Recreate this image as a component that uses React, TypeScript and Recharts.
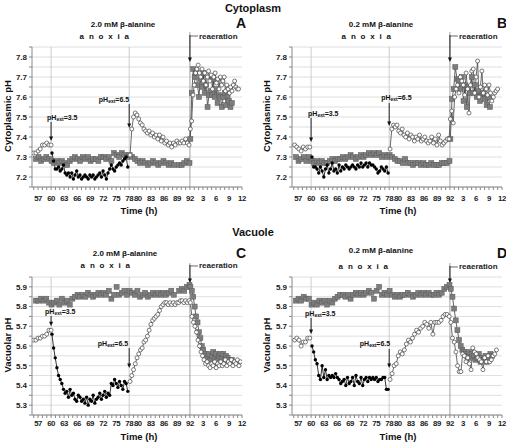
import React from 'react';
import { ComposedChart, Line, XAxis, YAxis, CartesianGrid, ReferenceLine } from 'recharts';

const FONT = '"Liberation Sans", Arial, sans-serif';

// ---------- axes ----------
const X_TICKS = [56,57,58,59,60,61,62,63,64,65,66,67,68,69,70,71,72,73,74,75,76,77,78,79,80,81,82,83,84,85,86,87,88,89,90,91,92,93,94,95,96,97,98,99,100,101,102,103,104];
const X_LABELS = [57, 60, 63, 66, 69, 72, 75, 78, 80, 83, 86, 89, 92, 95, 98, 101, 104];
const CYTO_TICKS = [7.15, 7.2, 7.25, 7.3, 7.35, 7.4, 7.45, 7.5, 7.55, 7.6, 7.65, 7.7, 7.75, 7.8, 7.85];
const VAC_TICKS = [5.25, 5.3, 5.35, 5.4, 5.45, 5.5, 5.55, 5.6, 5.65, 5.7, 5.75, 5.8, 5.85, 5.9, 5.95];

// ---------- Panel A : cytoplasm, 2.0 mM ----------
const aOpenPre = [7.32, 7.32, 7.33, 7.34, 7.36, 7.36, 7.37, 7.36, 7.36];
const aBlack = [7.32, 7.28, 7.24, 7.24, 7.25, 7.23, 7.24, 7.26, 7.22, 7.21, 7.22, 7.20, 7.22, 7.19, 7.21, 7.23, 7.20, 7.21, 7.19, 7.20, 7.21, 7.20, 7.19, 7.21, 7.20, 7.21, 7.19, 7.20, 7.21, 7.22, 7.20, 7.23, 7.21, 7.19, 7.22, 7.24, 7.26, 7.24, 7.23, 7.25, 7.26, 7.27, 7.26, 7.28, 7.29, 7.30, 7.25];
const aCtrlPre = [7.29, 7.30, 7.28, 7.29, 7.30, 7.29, 7.28, 7.27, 7.28, 7.27, 7.28, 7.27, 7.26, 7.28, 7.29, 7.30, 7.29, 7.28, 7.30, 7.29, 7.30, 7.28, 7.29, 7.29, 7.28, 7.30, 7.30, 7.29, 7.30, 7.28, 7.32, 7.31, 7.30, 7.32, 7.31, 7.30, 7.31, 7.30, 7.29, 7.28, 7.27, 7.28, 7.27, 7.26, 7.27, 7.28, 7.27, 7.26, 7.27, 7.28, 7.27, 7.26, 7.27, 7.26, null, 7.26, 7.26, 7.27, 7.28, 7.27];
const aOpenMid = [7.31, 7.44, 7.50, 7.52, 7.51, 7.49, 7.47, 7.46, 7.44, 7.43, 7.42, 7.43, 7.41, 7.42, 7.40, 7.41, 7.39, 7.41, 7.38, 7.40, 7.37, 7.38, 7.36, 7.37, 7.35, 7.37, 7.36, 7.38, 7.37, 7.37, 7.38, 7.37, 7.39, 7.37, 7.36];
const aOpenPost = [7.44, 7.48, 7.61, 7.66, 7.72, 7.74, 7.76, 7.72, 7.70, 7.74, 7.68, 7.72, 7.66, 7.70, 7.73, 7.68, 7.71, 7.64, 7.70, 7.72, 7.67, 7.69, 7.64, 7.70, 7.66, 7.68, 7.70, 7.63, 7.66, 7.64, 7.62, 7.65, 7.63, 7.66, 7.68, 7.65, 7.64, 7.64];
const aCtrlPost = [7.39, 7.62, 7.74, 7.70, 7.72, 7.66, 7.60, 7.69, 7.65, 7.72, 7.62, 7.66, 7.55, 7.61, 7.63, 7.61, 7.69, 7.60, 7.64, 7.57, 7.61, 7.60, 7.55, 7.60, 7.62, 7.56, 7.60, 7.58, 7.55, 7.57];

// ---------- Panel B : cytoplasm, 0.2 mM ----------
const bOpenPre = [7.36, 7.35, 7.34, 7.33, 7.35, 7.34, 7.35, 7.35];
const bBlack = [7.30, 7.25, 7.25, 7.24, 7.22, 7.25, 7.23, 7.20, 7.24, 7.26, 7.22, 7.24, 7.27, 7.23, 7.24, 7.22, 7.26, 7.23, 7.25, 7.24, 7.26, 7.25, 7.24, 7.25, 7.26, 7.25, 7.24, 7.26, 7.25, 7.27, 7.25, 7.26, 7.27, 7.25, 7.27, 7.26, 7.26, 7.25, 7.24, 7.22, 7.23, 7.25, 7.24, 7.23, 7.25, 7.22];
const bCtrlPre = [7.30, 7.28, 7.29, 7.30, 7.28, 7.30, 7.28, 7.27, 7.28, 7.27, 7.28, 7.27, 7.27, 7.28, 7.29, 7.28, 7.29, 7.29, 7.30, 7.29, 7.30, 7.31, 7.30, 7.29, 7.30, 7.31, 7.30, 7.31, 7.32, 7.31, 7.32, 7.31, 7.32, 7.30, 7.31, 7.30, 7.31, 7.30, 7.29, 7.28, 7.28, 7.27, 7.29, 7.27, 7.27, 7.26, 7.27, 7.27, 7.26, 7.27, 7.26, 7.26, 7.27, 7.26, 7.26, 7.26, 7.27, 7.27, 7.27, 7.28];
const bOpenMid = [7.34, 7.44, 7.46, 7.45, 7.46, 7.43, 7.42, 7.44, 7.41, 7.40, 7.42, 7.39, 7.41, 7.40, 7.38, 7.40, 7.39, 7.41, 7.38, 7.39, 7.40, 7.38, 7.37, 7.38, 7.40, 7.37, 7.39, 7.36, 7.41, 7.38, 7.36, 7.37, 7.38, 7.39, 7.39];
const bOpenPost = [7.49, 7.53, 7.47, 7.60, 7.64, 7.66, 7.62, 7.70, 7.68, 7.66, 7.61, 7.72, 7.64, 7.52, 7.66, 7.73, 7.74, 7.62, 7.70, 7.78, 7.60, 7.65, 7.73, 7.62, 7.66, 7.64, 7.61, 7.66, 7.62, 7.58, 7.60, 7.62, 7.63, 7.64];
const bCtrlPost = [7.39, 7.59, 7.64, 7.75, 7.69, 7.68, 7.64, 7.70, 7.58, 7.66, 7.55, 7.65, 7.62, 7.70, 7.62, 7.66, 7.60, 7.63, 7.58, 7.61, 7.62, 7.59, 7.56, 7.60, 7.55];

// ---------- Panel C : vacuole, 2.0 mM ----------
const cOpenPre = [5.63, 5.63, 5.64, 5.64, 5.65, 5.65, 5.66, 5.68, 5.68];
const cBlack = [5.66, 5.59, 5.54, 5.49, 5.45, 5.43, 5.41, 5.38, 5.36, 5.37, 5.34, 5.38, 5.35, 5.36, 5.33, 5.32, 5.35, 5.34, 5.32, 5.33, 5.31, 5.34, 5.30, 5.33, 5.32, 5.35, 5.31, 5.33, 5.34, 5.36, 5.33, 5.35, 5.37, 5.34, 5.36, 5.35, 5.41, 5.40, 5.43, 5.41, 5.39, 5.42, 5.40, 5.38, 5.42, 5.41, 5.37];
const cCtrlPre = [5.83, 5.83, 5.84, 5.83, 5.84, 5.82, 5.81, 5.82, 5.83, 5.81, 5.84, 5.82, 5.83, 5.81, 5.84, 5.85, 5.86, 5.85, 5.86, 5.85, 5.87, 5.86, 5.85, 5.86, 5.87, 5.86, 5.87, 5.86, 5.88, 5.84, 5.86, 5.90, 5.86, 5.87, 5.88, 5.86, 5.88, 5.87, 5.86, 5.88, 5.85, 5.86, 5.87, 5.85, 5.86, 5.87, 5.86, 5.87, 5.86, 5.87, 5.86, 5.87, 5.88, 5.86, null, 5.88, 5.89, 5.88, 5.90, 5.91];
const cOpenMid = [5.42, 5.45, 5.48, 5.51, 5.54, 5.56, 5.58, 5.59, 5.62, 5.63, 5.65, 5.68, 5.71, 5.73, 5.74, 5.75, 5.76, 5.78, 5.80, 5.81, 5.82, 5.82, 5.81, 5.82, 5.81, 5.82, 5.81, 5.82, 5.82, 5.83, 5.83, 5.82, 5.83, 5.82, 5.83];
const cOpenPost = [5.82, 5.75, 5.72, 5.70, 5.67, 5.63, 5.60, 5.57, 5.55, 5.53, 5.51, 5.52, 5.50, 5.49, 5.51, 5.50, 5.52, 5.49, 5.51, 5.50, 5.52, 5.50, 5.51, 5.53, 5.50, 5.52, 5.51, 5.53, 5.50, 5.52, 5.51, 5.53, 5.50, 5.52];
const cCtrlPost = [5.90, 5.88, 5.85, 5.80, 5.75, 5.72, 5.67, 5.64, 5.60, 5.58, 5.56, 5.55, 5.54, 5.56, 5.53, 5.55, 5.57, 5.54, 5.56, 5.53, 5.55, 5.56, 5.54, 5.56, 5.53, 5.55, 5.54, 5.53, 5.52, 5.53];

// ---------- Panel D : vacuole, 0.2 mM ----------
const dOpenPre = [5.63, 5.64, 5.63, 5.60, 5.62, 5.62, 5.64, 5.64];
const dBlack = [5.60, 5.57, 5.53, 5.51, 5.45, 5.43, 5.50, 5.44, 5.48, 5.43, 5.45, 5.44, 5.45, 5.44, 5.46, 5.44, 5.43, 5.41, 5.42, 5.43, 5.40, 5.44, 5.41, 5.42, 5.44, 5.40, 5.45, 5.42, 5.41, 5.44, 5.40, 5.43, 5.44, 5.42, 5.44, 5.43, 5.44, 5.43, 5.44, 5.42, 5.43, 5.43, 5.44, 5.44, 5.38, 5.38];
const dCtrlPre = [5.83, 5.84, 5.83, 5.85, 5.84, 5.84, 5.81, 5.82, 5.81, 5.83, 5.82, 5.83, 5.81, 5.83, 5.82, 5.84, 5.85, 5.86, 5.86, 5.85, 5.86, 5.84, 5.86, 5.87, 5.86, 5.87, 5.86, 5.87, 5.88, 5.87, 5.84, 5.88, 5.90, 5.86, 5.87, 5.86, 5.88, 5.86, 5.85, 5.86, 5.85, 5.86, 5.86, 5.87, 5.86, 5.85, 5.86, 5.87, 5.86, 5.87, 5.86, 5.87, 5.86, 5.86, 5.87, 5.86, 5.87, 5.89, 5.90, 5.91];
const dOpenMid = [5.43, 5.46, 5.50, 5.51, 5.55, 5.57, 5.56, 5.58, 5.61, 5.63, 5.62, 5.64, 5.66, 5.68, 5.67, 5.69, 5.70, 5.72, 5.71, 5.69, 5.72, 5.66, 5.72, 5.72, 5.72, 5.73, 5.75, 5.76, 5.76, 5.75];
const dOpenPost = [5.72, 5.64, 5.62, 5.57, 5.50, 5.47, 5.47, 5.56, 5.55, 5.52, 5.54, 5.51, 5.48, 5.59, 5.57, 5.56, 5.54, 5.53, 5.52, 5.48, 5.54, 5.52, 5.55, 5.52, 5.53, 5.55, 5.56, 5.58];
const dCtrlPost = [5.89, 5.85, 5.79, 5.73, 5.68, 5.63, 5.60, 5.58, 5.57, 5.56, 5.55, 5.57, 5.54, 5.56, 5.55, 5.53, 5.54, 5.56, 5.52, 5.54, 5.53, 5.55, 5.52, 5.54, 5.56, 5.55];

type Seg = { start: number; step: number; vals: (number | null)[] };
type Pt = { t: number; v: number };
const pts = (s: Seg): Pt[] =>
  s.vals
    .map((v, i) => ({ t: Math.round((s.start + i * s.step) * 100) / 100, v }))
    .filter((d) => d.v !== null) as Pt[];

const fmtX = (t: number) => (X_LABELS.includes(t) ? String(t > 92 ? t - 92 : t) : '');
const fmtY = (v: number) => (Math.round(v * 100) % 10 === 0 ? v.toFixed(1) : '');

const SquareDot = (p: any) => {
  const { cx, cy, index } = p;
  if (cx == null || cy == null) return <g key={`sq${index}`} />;
  return (
    <rect key={`sq${index}`} x={cx - 2.5} y={cy - 2.5} width={5} height={5}
      fill="#7d7d7d" stroke="#5a5a5a" strokeWidth={0.5} />
  );
};
const OpenDot = (p: any) => {
  const { cx, cy, index } = p;
  if (cx == null || cy == null) return <g key={`op${index}`} />;
  return <circle key={`op${index}`} cx={cx} cy={cy} r={2} fill="#fff" stroke="#444" strokeWidth={0.7} />;
};
const BlackDot = (p: any) => {
  const { cx, cy, index } = p;
  if (cx == null || cy == null) return <g key={`bk${index}`} />;
  return <circle key={`bk${index}`} cx={cx} cy={cy} r={1.7} fill="#000" />;
};

const XTick = (p: any) => {
  const { x, y, payload } = p;
  const s = fmtX(payload.value);
  if (!s) return <g />;
  return (
    <text x={x} y={y} dy="0.71em" textAnchor="middle" fontSize={7.8} fontWeight={700} fontFamily={FONT}
      letterSpacing={-0.45} fill="#222" style={{ fill: '#222' }}>
      {s}
    </text>
  );
};

const PHLabel = ({ x, y, val, anchor }: { x: number; y: number; val: string; anchor: string }) => (
  <text x={x} y={y} fontSize={7} fontWeight={700} fontFamily={FONT} fill="#111" stroke="none" style={{ fill: '#111' }}
    textAnchor={anchor as any} dominantBaseline="central">
    <tspan fill="#111">pH</tspan>
    <tspan fill="#111" fontSize={5} dy={2}>ext</tspan>
    <tspan fill="#111" dy={-2}>={val}</tspan>
  </text>
);

const arrowShape = (val: string | null, dx: number, dy: number, anchor: string) => (p: any) => {
  const { x1, y1, x2, y2 } = p;
  return (
    <g>
      <line x1={x1} y1={y1} x2={x2} y2={y2 - 3} stroke="#111" strokeWidth={0.9} />
      <polygon points={`${x2 - 2},${y2 - 4.5} ${x2 + 2},${y2 - 4.5} ${x2},${y2}`} fill="#111" stroke="none" />
      {val && <PHLabel x={x1 + dx} y={y1 + dy} val={val} anchor={anchor} />}
    </g>
  );
};

const reaerShape = (p: any) => {
  const { x1, y1, x2, y2 } = p;
  return (
    <g>
      <line x1={x1} y1={y1} x2={x2} y2={y2 - 3} stroke="#111" strokeWidth={0.9} />
      <polygon points={`${x2 - 2},${y2 - 4.5} ${x2 + 2},${y2 - 4.5} ${x2},${y2}`} fill="#111" stroke="none" />
      <line x1={x1} y1={y1 + 1} x2={x1 + 8} y2={y1 + 1} stroke="#444" strokeWidth={0.8} />
      <text x={x1 + 9} y={y1 + 1} fontSize={8} fontWeight={700} fontFamily={FONT} fill="#222" stroke="none"
        style={{ fill: '#222' }} dominantBaseline="central">
        reaeration
      </text>
    </g>
  );
};

type PanelCfg = {
  left: number; top: number;
  margin: { top: number; right: number; bottom: number; left: number };
  yWidth: number; xTickMargin: number;
  yDomain: [number, number]; yTicks: number[];
  openPre: Seg; black: Seg; ctrlPre: Seg; openMid: Seg; openPost: Seg; ctrlPost: Seg;
  a35: [number, number]; a35dx: number; a35dy: number; a35anchor: string;
  a65: [number, number]; a65dx: number; a65dy: number; a65anchor: string;
  reaer: [number, number]; lineTop: number;
};

const yTickStyle = { fontSize: 8, fontWeight: 700, fill: '#222', fontFamily: FONT };

function Panel({ c }: { c: PanelCfg }) {
  const openData = [...pts(c.openMid), ...pts(c.openPost)];
  return (
    <div style={{ position: 'absolute', left: c.left, top: c.top }}>
      <ComposedChart width={253} height={221} margin={c.margin}>
        <CartesianGrid vertical={false} stroke="#d6d6d6" strokeWidth={0.8} />
        <XAxis type="number" dataKey="t" domain={[55.6, 104]} ticks={X_TICKS} interval={0}
          tickFormatter={fmtX} allowDataOverflow height={20} tickSize={3} tickMargin={c.xTickMargin}
          stroke="#888" tick={XTick} />
        <YAxis type="number" domain={c.yDomain} ticks={c.yTicks} interval={0} tickFormatter={fmtY}
          width={c.yWidth} tickSize={3} tickMargin={2} stroke="#888" allowDataOverflow tick={yTickStyle} />
        <ReferenceLine x={60} stroke="#c6c6c6" strokeWidth={0.9} />
        <ReferenceLine x={78} stroke="#c6c6c6" strokeWidth={0.9} />
        <ReferenceLine segment={[{ x: 92, y: c.yDomain[0] }, { x: 92, y: c.lineTop }]} stroke="#9a9a9a"
          strokeWidth={0.9} ifOverflow="visible" />
        <Line data={pts(c.ctrlPre)} dataKey="v" stroke="none" dot={SquareDot} activeDot={false}
          isAnimationActive={false} legendType="none" />
        <Line data={pts(c.ctrlPost)} dataKey="v" stroke="#3a3a3a" strokeWidth={0.8} dot={SquareDot}
          activeDot={false} isAnimationActive={false} />
        <Line data={pts(c.openPre)} dataKey="v" stroke="#555" strokeWidth={0.8} dot={OpenDot}
          activeDot={false} isAnimationActive={false} />
        <Line data={pts(c.black)} dataKey="v" stroke="#000" strokeWidth={0.8} dot={BlackDot}
          activeDot={false} isAnimationActive={false} />
        <Line data={openData} dataKey="v" stroke="#444" strokeWidth={0.8} dot={OpenDot}
          activeDot={false} isAnimationActive={false} />
        <ReferenceLine segment={[{ x: 60, y: c.a35[0] }, { x: 60, y: c.a35[1] }]} ifOverflow="visible"
          shape={arrowShape('3.5', c.a35dx, c.a35dy, c.a35anchor)} />
        <ReferenceLine segment={[{ x: 78, y: c.a65[0] }, { x: 78, y: c.a65[1] }]} ifOverflow="visible"
          shape={arrowShape('6.5', c.a65dx, c.a65dy, c.a65anchor)} />
        <ReferenceLine segment={[{ x: 92, y: c.reaer[0] }, { x: 92, y: c.reaer[1] }]} ifOverflow="visible"
          shape={reaerShape} />
      </ComposedChart>
    </div>
  );
}

const PANELS: PanelCfg[] = [
  {
    left: 0, top: 0, margin: { top: 47, right: 11, bottom: 14, left: 0 }, yWidth: 32, xTickMargin: 5,
    yDomain: [7.15, 7.85], yTicks: CYTO_TICKS,
    openPre: { start: 56.0, step: 0.5, vals: aOpenPre },
    black: { start: 60.2, step: 0.38, vals: aBlack },
    ctrlPre: { start: 56.5, step: 0.6, vals: aCtrlPre },
    openMid: { start: 78.2, step: 0.4, vals: aOpenMid },
    openPost: { start: 92.1, step: 0.3, vals: aOpenPost },
    ctrlPost: { start: 92.1, step: 0.33, vals: aCtrlPost },
    a35: [7.475, 7.38], a35dx: -4, a35dy: -5, a35anchor: 'start',
    a65: [7.565, 7.445], a65dx: 0, a65dy: -5, a65anchor: 'end',
    reaer: [7.91, 7.775], lineTop: 7.925,
  },
  {
    left: 253, top: 0, margin: { top: 47, right: 4, bottom: 14, left: 0 }, yWidth: 39, xTickMargin: 5,
    yDomain: [7.15, 7.85], yTicks: CYTO_TICKS,
    openPre: { start: 56.2, step: 0.5, vals: bOpenPre },
    black: { start: 60.2, step: 0.39, vals: bBlack },
    ctrlPre: { start: 56.5, step: 0.6, vals: bCtrlPre },
    openMid: { start: 78.2, step: 0.4, vals: bOpenMid },
    openPost: { start: 92.1, step: 0.33, vals: bOpenPost },
    ctrlPost: { start: 92.1, step: 0.38, vals: bCtrlPost },
    a35: [7.495, 7.375], a35dx: -3, a35dy: -5, a35anchor: 'start',
    a65: [7.57, 7.455], a65dx: -8, a65dy: -6, a65anchor: 'start',
    reaer: [7.91, 7.775], lineTop: 7.925,
  },
  {
    left: 0, top: 221, margin: { top: 56, right: 11, bottom: 7, left: 0 }, yWidth: 32, xTickMargin: 2,
    yDomain: [5.25, 5.95], yTicks: VAC_TICKS,
    openPre: { start: 56.0, step: 0.5, vals: cOpenPre },
    black: { start: 60.2, step: 0.38, vals: cBlack },
    ctrlPre: { start: 56.5, step: 0.6, vals: cCtrlPre },
    openMid: { start: 78.2, step: 0.4, vals: cOpenMid },
    openPost: { start: 92.1, step: 0.35, vals: cOpenPost },
    ctrlPost: { start: 92.1, step: 0.33, vals: cCtrlPost },
    a35: [5.752, 5.70], a35dx: -6, a35dy: -5, a35anchor: 'start',
    a65: [5.59, 5.488], a65dx: -1, a65dy: -5, a65anchor: 'end',
    reaer: [6.011, 5.92], lineTop: 6.021,
  },
  {
    left: 253, top: 221, margin: { top: 56, right: 4, bottom: 7, left: 0 }, yWidth: 39, xTickMargin: 2,
    yDomain: [5.25, 5.95], yTicks: VAC_TICKS,
    openPre: { start: 56.2, step: 0.5, vals: dOpenPre },
    black: { start: 60.2, step: 0.39, vals: dBlack },
    ctrlPre: { start: 56.5, step: 0.6, vals: dCtrlPre },
    openMid: { start: 78.2, step: 0.47, vals: dOpenMid },
    openPost: { start: 92.2, step: 0.39, vals: dOpenPost },
    ctrlPost: { start: 92.2, step: 0.38, vals: dCtrlPost },
    a35: [5.742, 5.661], a35dx: -6, a35dy: -5, a35anchor: 'start',
    a65: [5.585, 5.488], a65dx: 1, a65dy: -6, a65anchor: 'end',
    reaer: [6.006, 5.92], lineTop: 6.021,
  },
];

const bold = { fontFamily: FONT, fontWeight: 700, fill: '#111' } as const;

export default function App() {
  return (
    <div style={{ position: 'absolute', left: 0, top: 0, width: 506, height: 442, background: '#fff', overflow: 'hidden' }}>
      {PANELS.map((c, i) => <Panel key={i} c={c} />)}
      <svg width={506} height={442} style={{ position: 'absolute', left: 0, top: 0, pointerEvents: 'none' }}>
        <text x={253} y={8} fontSize={11} textAnchor="middle" dominantBaseline="central" {...bold}>Cytoplasm</text>
        <text x={253} y={232} fontSize={11} textAnchor="middle" dominantBaseline="central" {...bold}>Vacuole</text>

        <text x={123} y={24} fontSize={8} textAnchor="middle" dominantBaseline="central" {...bold}>2.0 mM β-alanine</text>
        <text x={381} y={24} fontSize={8} textAnchor="middle" dominantBaseline="central" {...bold}>0.2 mM β-alanine</text>
        <text x={125} y={253} fontSize={8} textAnchor="middle" dominantBaseline="central" {...bold}>2.0 mM β-alanine</text>
        <text x={381} y={250} fontSize={8} textAnchor="middle" dominantBaseline="central" {...bold}>0.2 mM β-alanine</text>

        <text x={105} y={36} fontSize={8} letterSpacing={1.3} textAnchor="middle" dominantBaseline="central" {...bold}>a n o x i a</text>
        <text x={367} y={36} fontSize={8} letterSpacing={1.3} textAnchor="middle" dominantBaseline="central" {...bold}>a n o x i a</text>
        <text x={106} y={265} fontSize={8} letterSpacing={1.3} textAnchor="middle" dominantBaseline="central" {...bold}>a n o x i a</text>
        <text x={364} y={266} fontSize={8} letterSpacing={1.3} textAnchor="middle" dominantBaseline="central" {...bold}>a n o x i a</text>

        <text x={241} y={23} fontSize={14} textAnchor="middle" dominantBaseline="central" {...bold}>A</text>
        <text x={497} y={23} fontSize={14} textAnchor="start" dominantBaseline="central" {...bold}>B</text>
        <text x={241} y={253} fontSize={14} textAnchor="middle" dominantBaseline="central" {...bold}>C</text>
        <text x={497} y={253} fontSize={14} textAnchor="start" dominantBaseline="central" {...bold}>D</text>

        <text x={7} y={116} fontSize={9.5} textAnchor="middle" dominantBaseline="central" transform="rotate(-90 7 116)" {...bold}>Cytoplasmic pH</text>
        <text x={266} y={116} fontSize={9.5} textAnchor="middle" dominantBaseline="central" transform="rotate(-90 266 116)" {...bold}>Cytoplasmic pH</text>
        <text x={7} y={345} fontSize={9.5} textAnchor="middle" dominantBaseline="central" transform="rotate(-90 7 345)" {...bold}>Vacuolar pH</text>
        <text x={266} y={345} fontSize={9.5} textAnchor="middle" dominantBaseline="central" transform="rotate(-90 266 345)" {...bold}>Vacuolar pH</text>

        <text x={139} y={210} fontSize={9.5} textAnchor="middle" dominantBaseline="central" {...bold}>Time (h)</text>
        <text x={398} y={210} fontSize={9.5} textAnchor="middle" dominantBaseline="central" {...bold}>Time (h)</text>
        <text x={139} y={436} fontSize={9.5} textAnchor="middle" dominantBaseline="central" {...bold}>Time (h)</text>
        <text x={398} y={436} fontSize={9.5} textAnchor="middle" dominantBaseline="central" {...bold}>Time (h)</text>
      </svg>
    </div>
  );
}
